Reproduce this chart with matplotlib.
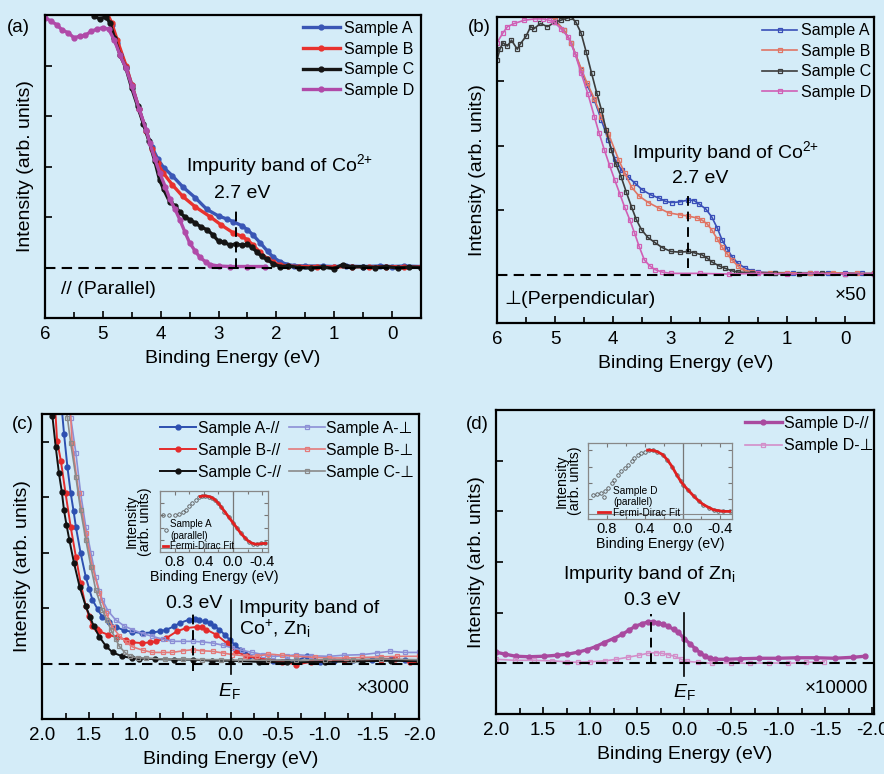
import matplotlib
matplotlib.use("Agg")
import matplotlib.pyplot as plt
from matplotlib.ticker import MultipleLocator, FormatStrFormatter

plt.rcParams['font.family'] = ['Liberation Sans', 'DejaVu Sans']
plt.rcParams['mathtext.fontset'] = 'custom'
plt.rcParams['mathtext.rm'] = 'Liberation Sans'
plt.rcParams['mathtext.it'] = 'Liberation Sans:italic'

bg = "#d4ecf8"

# ---------- (a) parallel, binding energy (eV) / intensity ----------
a_A_E = [4.95, 4.85, 4.75, 4.6, 4.5, 4.37, 4.25, 4.15, 4.05, 3.95, 3.8, 3.62, 3.4, 3.2, 3.0, 2.85, 2.75, 2.6,
         2.5, 2.4, 2.28, 2.15, 2.05, 1.93, 1.81, 1.7, 1.5, 1.2, 1.0, 0.8, 0.5, 0.2, 0.0, -0.2, -0.5]
a_A_I = [5.1, 4.8, 4.45, 3.98, 3.62, 3.13, 2.7, 2.38, 2.15, 1.98, 1.82, 1.6, 1.38, 1.15, 1.02, 0.96, 0.91, 0.83,
         0.75, 0.64, 0.49, 0.32, 0.2, 0.11, 0.06, 0.04, 0.03, 0.03, 0.02, 0.03, 0.02, 0.03, 0.02, 0.03, 0.02]
a_B_E = [4.95, 4.85, 4.75, 4.6, 4.5, 4.37, 4.25, 4.15, 4.05, 3.96, 3.8, 3.62, 3.4, 3.15, 2.95, 2.75, 2.6, 2.5,
         2.4, 2.28, 2.15, 2.05, 1.93, 1.8, 1.6, 1.3, 1.0, 0.7, 0.4, 0.1, -0.2, -0.5]
a_B_I = [5.1, 4.85, 4.5, 4.0, 3.62, 3.13, 2.7, 2.35, 2.06, 1.88, 1.64, 1.41, 1.2, 1.01, 0.84, 0.69, 0.62, 0.55,
         0.44, 0.3, 0.17, 0.1, 0.05, 0.03, 0.02, 0.02, 0.01, 0.02, 0.01, 0.02, 0.01, 0.01]
a_C_E = [5.15, 5.05, 4.95, 4.88, 4.8, 4.7, 4.6, 4.5, 4.4, 4.3, 4.2, 4.1, 4.02, 3.95, 3.84, 3.75, 3.67, 3.58,
         3.5, 3.4, 3.3, 3.2, 3.1, 3.0, 2.9, 2.8, 2.7, 2.6, 2.5, 2.42, 2.33, 2.25, 2.16, 2.05, 1.93, 1.8, 1.6,
         1.4, 1.2, 1.0, 0.85, 0.7, 0.5, 0.3, 0.1, -0.1, -0.3, -0.5]
a_C_I = [4.98, 4.92, 4.97, 4.85, 4.55, 4.2, 3.95, 3.55, 3.2, 2.85, 2.5, 2.1, 1.74, 1.55, 1.29, 1.22, 1.09, 1.0,
         0.95, 0.88, 0.8, 0.75, 0.65, 0.52, 0.5, 0.44, 0.47, 0.44, 0.46, 0.4, 0.3, 0.22, 0.16, 0.07, 0.02, 0.03,
         0.0, -0.01, 0.01, -0.02, 0.06, 0.01, 0.02, 0.0, 0.02, -0.01, 0.01, 0.0]
a_D_E = [6.0, 5.9, 5.8, 5.7, 5.6, 5.5, 5.4, 5.3, 5.2, 5.1, 5.0, 4.9, 4.8, 4.7, 4.6, 4.5, 4.37, 4.25, 4.19,
         4.1, 4.02, 3.92, 3.84, 3.75, 3.67, 3.58, 3.5, 3.4, 3.32, 3.22, 3.15, 3.0, 2.8, 2.5, 2.2]
a_D_I = [4.95, 4.88, 4.81, 4.7, 4.65, 4.55, 4.58, 4.6, 4.68, 4.72, 4.75, 4.72, 4.5, 4.2, 3.95, 3.6, 3.13, 2.72,
         2.47, 2.15, 1.88, 1.6, 1.35, 1.15, 0.95, 0.7, 0.49, 0.32, 0.2, 0.11, 0.06, 0.03, 0.02, 0.02, 0.02]

# ---------- (b) perpendicular ----------
b_A_E = [5.1, 5.0, 4.85, 4.72, 4.55, 4.45, 4.32, 4.2, 4.08, 3.97, 3.85, 3.74, 3.62, 3.5, 3.35, 3.21, 3.1, 2.99,
         2.85, 2.7, 2.6, 2.52, 2.4, 2.3, 2.2, 2.12, 2.03, 1.95, 1.85, 1.72, 1.6, 1.5, 1.2, 0.9, 0.6, 0.3, 0.0,
         -0.3, -0.5]
b_A_I = [4.05, 3.95, 3.8, 3.6, 3.18, 2.95, 2.71, 2.4, 2.09, 1.8, 1.62, 1.52, 1.42, 1.32, 1.24, 1.19, 1.14, 1.12,
         1.13, 1.16, 1.15, 1.1, 1.02, 0.9, 0.72, 0.54, 0.4, 0.28, 0.18, 0.1, 0.06, 0.04, 0.03, 0.03, 0.03, 0.02,
         0.03, 0.02, 0.02]
b_B_E = [5.1, 5.0, 4.85, 4.72, 4.55, 4.45, 4.32, 4.2, 4.08, 3.9, 3.8, 3.68, 3.55, 3.39, 3.2, 3.04, 2.85, 2.7,
         2.55, 2.47, 2.38, 2.3, 2.2, 2.12, 2.03, 1.95, 1.85, 1.78, 1.6, 1.3, 1.0, 0.6, 0.2, -0.2, -0.5]
b_B_I = [4.05, 3.95, 3.8, 3.6, 3.2, 2.98, 2.73, 2.45, 2.19, 1.78, 1.58, 1.36, 1.22, 1.12, 1.03, 0.96, 0.93, 0.91,
         0.88, 0.85, 0.79, 0.7, 0.55, 0.43, 0.32, 0.23, 0.14, 0.08, 0.04, 0.03, 0.03, 0.02, 0.03, 0.02, 0.02]
b_C_E = [6.0, 5.95, 5.9, 5.82, 5.75, 5.65, 5.6, 5.5, 5.42, 5.36, 5.25, 5.13, 5.0, 4.9, 4.8, 4.72, 4.64, 4.55,
         4.46, 4.37, 4.28, 4.2, 4.12, 4.03, 3.95, 3.86, 3.77, 3.68, 3.6, 3.51, 3.4, 3.28, 3.15, 3.0, 2.85, 2.7,
         2.6, 2.47, 2.38, 2.3, 2.18, 2.07, 1.95, 1.84, 1.6, 1.2, 0.8, 0.4, 0.0, -0.5]
b_C_I = [3.33, 3.5, 3.6, 3.55, 3.64, 3.5, 3.58, 3.7, 3.85, 3.82, 3.9, 3.85, 3.92, 3.95, 3.98, 4.0, 3.92, 3.75,
         3.45, 3.13, 2.82, 2.56, 2.25, 1.94, 1.72, 1.52, 1.28, 1.05, 0.86, 0.7, 0.58, 0.5, 0.42, 0.36, 0.35, 0.36,
         0.34, 0.31, 0.26, 0.2, 0.14, 0.1, 0.06, 0.04, 0.03, 0.02, 0.01, 0.02, 0.01, 0.01]
b_D_E = [6.0, 5.9, 5.82, 5.7, 5.53, 5.35, 5.2, 5.1, 5.01, 4.9, 4.77, 4.65, 4.55, 4.43, 4.32, 4.24, 4.15, 4.06,
         3.97, 3.88, 3.8, 3.71, 3.63, 3.55, 3.46, 3.37, 3.28, 3.15, 3.0, 2.5, 2.0, 1.5, 1.0, 0.5, 0.0, -0.5]
b_D_I = [3.6, 3.75, 3.85, 3.9, 3.95, 3.97, 3.97, 3.95, 3.92, 3.82, 3.69, 3.42, 3.13, 2.8, 2.45, 2.2, 1.94, 1.7,
         1.47, 1.25, 1.05, 0.85, 0.65, 0.44, 0.23, 0.14, 0.08, 0.04, 0.02, 0.02, 0.01, 0.02, 0.01, 0.02, 0.01, 0.01]

# ---------- (c) near E_F, x3000 ----------
c_Apar_E = [1.79, 1.766, 1.73, 1.695, 1.665, 1.64, 1.59, 1.535, 1.5, 1.465, 1.41, 1.36, 1.29, 1.22, 1.13, 1.04,
            0.94, 0.83, 0.75, 0.68, 0.6, 0.54, 0.44, 0.38, 0.33, 0.27, 0.22, 0.17, 0.12, 0.06, 0.01, -0.05, -0.1,
            -0.15, -0.2, -0.31, -0.45, -0.6, -0.7, -0.81, -0.88, -0.95, -1.1, -1.3, -1.5, -1.7, -1.85, -2.0]
c_Apar_I = [4.6, 4.14, 3.54, 3.07, 2.75, 2.46, 1.99, 1.56, 1.35, 1.15, 0.98, 0.84, 0.74, 0.66, 0.6, 0.57, 0.55,
            0.56, 0.58, 0.61, 0.67, 0.73, 0.79, 0.8, 0.78, 0.76, 0.73, 0.68, 0.61, 0.52, 0.43, 0.33, 0.25, 0.18,
            0.13, 0.07, 0.05, 0.06, 0.05, 0.13, 0.08, 0.03, 0.05, 0.06, 0.07, 0.08, 0.06, 0.05]
c_Bpar_E = [1.86, 1.84, 1.8, 1.75, 1.695, 1.64, 1.59, 1.535, 1.5, 1.465, 1.42, 1.39, 1.3, 1.2, 1.11, 1.04, 0.94,
            0.85, 0.79, 0.68, 0.57, 0.47, 0.36, 0.3, 0.255, 0.15, 0.04, -0.06, -0.17, -0.28, -0.4, -0.55, -0.7,
            -0.85, -1.0, -1.2, -1.4, -1.6, -1.75, -1.9, -2.0]
c_Bpar_I = [4.6, 4.02, 3.66, 3.07, 2.46, 1.92, 1.45, 1.03, 0.85, 0.67, 0.62, 0.58, 0.52, 0.47, 0.43, 0.38, 0.37,
            0.38, 0.4, 0.46, 0.58, 0.64, 0.66, 0.65, 0.61, 0.52, 0.37, 0.22, 0.13, 0.1, 0.07, 0.03, -0.02, 0.03,
            0.05, 0.07, 0.06, 0.07, 0.08, 0.03, 0.02]
c_Cpar_E = [1.93, 1.89, 1.854, 1.82, 1.79, 1.766, 1.74, 1.71, 1.66, 1.6, 1.535, 1.49, 1.45, 1.39, 1.32, 1.25,
            1.15, 1.05, 0.97, 0.8, 0.6, 0.4, 0.2, 0.0, -0.3, -0.6, -1.0, -1.4, -1.7, -2.0]
c_Cpar_I = [4.7, 4.47, 3.9, 3.43, 3.1, 2.76, 2.5, 2.23, 1.81, 1.38, 1.03, 0.84, 0.67, 0.48, 0.31, 0.2, 0.13, 0.1,
            0.09, 0.08, 0.07, 0.07, 0.05, 0.05, 0.03, 0.02, 0.03, 0.04, 0.05, 0.04]
c_Aperp_E = [1.72, 1.695, 1.64, 1.59, 1.535, 1.48, 1.43, 1.39, 1.36, 1.3, 1.22, 1.13, 1.04, 0.93, 0.83, 0.72,
             0.62, 0.5, 0.4, 0.3, 0.19, 0.08, -0.02, -0.12, -0.23, -0.35, -0.45, -0.6, -0.7, -0.85, -1.05, -1.2,
             -1.4, -1.55, -1.69, -1.85, -2.0]
c_Aperp_I = [4.6, 4.43, 3.79, 3.07, 2.46, 1.99, 1.56, 1.3, 1.15, 0.95, 0.79, 0.68, 0.61, 0.54, 0.49, 0.44, 0.4,
             0.4, 0.4, 0.39, 0.37, 0.33, 0.28, 0.24, 0.2, 0.16, 0.13, 0.14, 0.16, 0.14, 0.13, 0.15, 0.16, 0.19,
             0.22, 0.2, 0.2]
c_Bperp_E = [1.7, 1.68, 1.61, 1.535, 1.465, 1.39, 1.32, 1.25, 1.18, 1.1, 1.04, 0.93, 0.83, 0.72, 0.62, 0.5, 0.4,
             0.3, 0.19, 0.08, -0.02, -0.15, -0.28, -0.4, -0.55, -0.7, -0.9, -1.05, -1.23, -1.4, -1.6, -1.77, -2.0]
c_Bperp_I = [4.6, 3.97, 3.07, 2.35, 1.74, 1.27, 0.91, 0.66, 0.5, 0.38, 0.3, 0.24, 0.2, 0.2, 0.2, 0.23, 0.25,
             0.23, 0.22, 0.19, 0.16, 0.14, 0.13, 0.17, 0.15, 0.13, 0.11, 0.1, 0.1, 0.11, 0.12, 0.13, 0.13]
c_Cperp_E = [1.75, 1.73, 1.695, 1.64, 1.59, 1.535, 1.48, 1.43, 1.36, 1.31, 1.27, 1.22, 1.18, 1.12, 1.07, 0.98,
             0.9, 0.7, 0.5, 0.3, 0.1, -0.1, -0.4, -0.7, -1.0, -1.3, -1.6, -2.0]
c_Cperp_I = [4.6, 4.43, 3.97, 3.36, 2.76, 2.23, 1.74, 1.33, 0.97, 0.78, 0.61, 0.45, 0.31, 0.2, 0.13, 0.1, 0.1,
             0.08, 0.08, 0.07, 0.07, 0.06, 0.06, 0.06, 0.07, 0.07, 0.08, 0.07]

# ---------- (d) sample D, x10000 ----------
d_par_E = [2.0, 1.9, 1.79, 1.65, 1.49, 1.35, 1.24, 1.13, 1.03, 0.94, 0.85, 0.75, 0.66, 0.59, 0.52, 0.45, 0.38,
           0.33, 0.28, 0.22, 0.17, 0.11, 0.06, 0.0, -0.06, -0.12, -0.17, -0.22, -0.28, -0.33, -0.45, -0.6, -0.8,
           -1.0, -1.2, -1.4, -1.6, -1.8, -1.92]
d_par_I = [0.22, 0.18, 0.14, 0.13, 0.14, 0.16, 0.18, 0.22, 0.27, 0.33, 0.41, 0.49, 0.57, 0.65, 0.73, 0.78, 0.82,
           0.82, 0.8, 0.77, 0.73, 0.67, 0.61, 0.49, 0.39, 0.29, 0.21, 0.14, 0.1, 0.08, 0.08, 0.09, 0.1, 0.1, 0.11,
           0.11, 0.1, 0.12, 0.14]
d_perp_E = [2.0, 1.8, 1.6, 1.4, 1.25, 1.13, 1.0, 0.84, 0.72, 0.6, 0.48, 0.38, 0.3, 0.24, 0.17, 0.1, 0.03, -0.03,
            -0.15, -0.3, -0.5, -0.7, -0.9, -1.1, -1.3, -1.49]
d_perp_I = [0.08, 0.06, 0.06, 0.05, 0.03, 0.02, 0.03, 0.05, 0.08, 0.12, 0.16, 0.2, 0.21, 0.2, 0.17, 0.14, 0.08,
            0.04, 0.02, 0.0, 0.01, 0.0, 0.01, 0.0, 0.02, 0.03]

# ---------- insets (normalised) ----------
ic_E = [0.96, 0.88, 0.8, 0.74, 0.69, 0.65, 0.6, 0.56, 0.51, 0.47, 0.42, 0.38, 0.33, 0.29, 0.24, 0.2, 0.16, 0.12,
        0.06, 0.0, -0.06, -0.11, -0.17, -0.22, -0.28, -0.33, -0.39, -0.44]
ic_I = [0.61, 0.61, 0.615, 0.63, 0.66, 0.69, 0.75, 0.8, 0.86, 0.9, 0.92, 0.92, 0.91, 0.89, 0.85, 0.8, 0.73, 0.66,
        0.57, 0.48, 0.39, 0.31, 0.23, 0.16, 0.13, 0.13, 0.14, 0.15]
ic_fit_E = [0.45, 0.4, 0.35, 0.3, 0.25, 0.2, 0.15, 0.1, 0.05, 0.0, -0.05, -0.1, -0.15, -0.2, -0.25, -0.3, -0.35,
            -0.4, -0.45]
ic_fit_I = [0.91, 0.92, 0.915, 0.9, 0.86, 0.8, 0.72, 0.64, 0.56, 0.48, 0.4, 0.32, 0.25, 0.19, 0.15, 0.13, 0.13,
            0.14, 0.14]
id_E = [0.95, 0.9, 0.86, 0.82, 0.79, 0.75, 0.72, 0.68, 0.65, 0.61, 0.58, 0.54, 0.51, 0.47, 0.44, 0.4, 0.35, 0.31,
        0.27, 0.21, 0.16, 0.11, 0.06, 0.02, -0.01, -0.06, -0.12, -0.17, -0.22, -0.28, -0.33, -0.38, -0.43, -0.5]
id_I = [0.32, 0.33, 0.34, 0.37, 0.41, 0.47, 0.52, 0.58, 0.63, 0.67, 0.71, 0.76, 0.8, 0.84, 0.87, 0.89, 0.91, 0.905,
        0.89, 0.85, 0.78, 0.69, 0.58, 0.5, 0.45, 0.38, 0.3, 0.24, 0.19, 0.15, 0.12, 0.11, 0.1, 0.1]
id_fit_E = [0.37, 0.31, 0.27, 0.21, 0.16, 0.11, 0.06, 0.02, -0.01, -0.06, -0.12, -0.17, -0.22, -0.28, -0.33,
            -0.38, -0.43, -0.5]
id_fit_I = [0.91, 0.905, 0.89, 0.85, 0.78, 0.69, 0.58, 0.5, 0.45, 0.38, 0.3, 0.24, 0.19, 0.15, 0.12, 0.11, 0.1, 0.1]

inset_ticks = [0.8, 0.4, 0.0, -0.4]
dash = (0, (5, 3))


def style(ax, xlim, ylim, major, minor, yticks, fmt):
    ax.set_facecolor(bg)
    ax.set_xlim(*xlim)
    ax.set_ylim(*ylim)
    ax.xaxis.set_major_locator(MultipleLocator(major))
    ax.xaxis.set_minor_locator(MultipleLocator(minor))
    ax.xaxis.set_major_formatter(FormatStrFormatter(fmt))
    ax.set_yticks(yticks)
    ax.set_yticklabels([])
    ax.tick_params(direction='in', length=5, width=1.2, labelsize=13.5, pad=6)
    ax.tick_params(which='minor', direction='in', length=4, width=1.2)
    for s in ax.spines.values():
        s.set_linewidth(1.6)
    ax.set_xlabel("Binding Energy (eV)", fontsize=14, labelpad=5)
    ax.set_ylabel("Intensity (arb. units)", fontsize=14, labelpad=2)


def style_inset(ax, xlim, yticks):
    ax.set_facecolor(bg)
    ax.set_xlim(*xlim)
    ax.set_ylim(0, 1)
    ax.set_xticks(inset_ticks)
    ax.set_xticklabels(["0.8", "0.4", "0.0", "-0.4"])
    ax.xaxis.set_minor_locator(MultipleLocator(0.2))
    ax.set_yticks(yticks)
    ax.set_yticklabels([])
    ax.tick_params(direction='in', length=3, width=0.8, labelsize=10.5, pad=2, color='#777777',
                   right=True, top=True)
    ax.tick_params(which='minor', direction='in', length=2, width=0.8, color='#777777', top=True)
    for s in ax.spines.values():
        s.set_linewidth(0.9)
        s.set_color('#888888')
    ax.axvline(0, color='#777777', lw=0.9)
    ax.axhline(0.06, color='#888888', lw=0.8)
    ax.set_xlabel("Binding Energy (eV)", fontsize=10.3, labelpad=1)


fig = plt.figure(figsize=(8.84, 7.74), dpi=100, facecolor=bg)
ax_a = fig.add_axes([0.0509, 0.5891, 0.4253, 0.3915])
ax_b = fig.add_axes([0.5622, 0.5827, 0.4265, 0.3953])
ax_c = fig.add_axes([0.0475, 0.0711, 0.4265, 0.3940])
ax_d = fig.add_axes([0.5611, 0.0775, 0.4276, 0.3928])

co2 = "Impurity band of Co$^{2{+}}$"

# (a)
style(ax_a, (6, -0.5), (-1, 5), 1, 0.5, [0, 1, 2, 3, 4], '%d')
fa = dict(marker='o', ms=3.5, lw=2.4)
ax_a.plot(a_A_E, a_A_I, color='#3a56b5', label='Sample A', **fa)
ax_a.plot(a_B_E, a_B_I, color='#e8322e', label='Sample B', **fa)
ax_a.plot(a_C_E, a_C_I, color='#151515', label='Sample C', **fa)
ax_a.plot(a_D_E, a_D_I, color='#b04aa8', label='Sample D', **fa)
ax_a.plot([6, -0.5], [0, 0], color='k', lw=1.5, ls=dash, zorder=3)
ax_a.plot([2.7, 2.7], [0, 1.19], color='k', lw=1.4, ls=dash, zorder=3)
ax_a.text(1.95, 2.02, co2, ha='center', va='center', fontsize=14)
ax_a.text(2.59, 1.47, "2.7 eV", ha='center', va='center', fontsize=14)
ax_a.text(5.72, -0.44, "// (Parallel)", ha='left', va='center', fontsize=14)
ax_a.legend(loc='upper left', bbox_to_anchor=(0.686, 0.98), frameon=False, fontsize=11.5,
            borderpad=0, borderaxespad=0, handlelength=2.3, handletextpad=0.25, labelspacing=0.35)

# (b)
style(ax_b, (6, -0.5), (-0.75, 4), 1, 0.5, [0, 1, 2, 3], '%d')
sq = dict(marker='s', ms=3.5, mfc='none', mew=0.9, lw=1.2)
ax_b.plot(b_A_E, b_A_I, color='#3a4fb8', label='Sample A', **sq)
ax_b.plot(b_B_E, b_B_I, color='#e07565', label='Sample B', **sq)
ax_b.plot(b_C_E, b_C_I, color='#3c3c3c', label='Sample C', **sq)
ax_b.plot(b_D_E, b_D_I, color='#d05fb5', label='Sample D', **sq)
ax_b.plot([6, -0.5], [0, 0], color='k', lw=1.5, ls=dash, zorder=3)
ax_b.plot([2.7, 2.7], [0.1, 1.25], color='k', lw=1.4, ls=dash, zorder=3)
ax_b.text(2.06, 1.91, co2, ha='center', va='center', fontsize=14)
ax_b.text(2.5, 1.5, "2.7 eV", ha='center', va='center', fontsize=14)
ax_b.text(5.88, -0.39, "⊥(Perpendicular)", ha='left', va='center', fontsize=14)
ax_b.text(-0.37, -0.33, "×50", ha='right', va='center', fontsize=13.5)
ax_b.legend(loc='upper left', bbox_to_anchor=(0.703, 0.98), frameon=False, fontsize=11.5,
            borderpad=0, borderaxespad=0, handlelength=2.2, handletextpad=0.25, labelspacing=0.35)

# (c)
style(ax_c, (2, -2), (-1, 4.5), 0.5, 0.25, [0, 1, 2, 3, 4], '%.1f')
fd = dict(marker='o', ms=3.5, lw=1.4)
l1, = ax_c.plot(c_Apar_E, c_Apar_I, color='#2d4fb0', label='Sample A-//', **fd)
l2, = ax_c.plot(c_Bpar_E, c_Bpar_I, color='#e42b2b', label='Sample B-//', **fd)
l3, = ax_c.plot(c_Cpar_E, c_Cpar_I, color='#111111', label='Sample C-//', **fd)
l4, = ax_c.plot(c_Aperp_E, c_Aperp_I, color='#8c8fd6', label='Sample A-⊥', **sq)
l5, = ax_c.plot(c_Bperp_E, c_Bperp_I, color='#e47a7a', label='Sample B-⊥', **sq)
l6, = ax_c.plot(c_Cperp_E, c_Cperp_I, color='#8a8a8a', label='Sample C-⊥', **sq)
ax_c.plot([2, -2], [0, 0], color='k', lw=1.5, ls=dash, zorder=3)
ax_c.plot([0.4, 0.4], [-0.14, 0.97], color='k', lw=1.4, ls=dash, zorder=3)
ax_c.plot([0, 0], [-0.18, 1.15], color='k', lw=1.2, zorder=3)
ax_c.text(0.39, 1.08, "0.3 eV", ha='center', va='center', fontsize=14)
ax_c.text(-0.085, 0.99, "Impurity band of", ha='left', va='center', fontsize=14)
ax_c.text(-0.085, 0.63, "Co$^{+}$, Zn$_\\mathrm{i}$", ha='left', va='center', fontsize=14)
ax_c.text(0.01, -0.5, "$E_\\mathrm{F}$", ha='center', va='center', fontsize=14)
ax_c.text(-1.9, -0.45, "×3000", ha='right', va='center', fontsize=13.5)
ax_c.legend(handles=[l1, l2, l3, l4, l5, l6], ncol=2, loc='upper left', bbox_to_anchor=(0.313, 0.978),
            frameon=False, fontsize=11.3, borderpad=0, borderaxespad=0, handlelength=2.3,
            handletextpad=0.1, labelspacing=0.45, columnspacing=0.5)

# (d)
style(ax_d, (2, -2.02), (-1, 5), 0.5, 0.25, [0, 1, 2, 3, 4], '%.1f')
ax_d.plot(d_par_E, d_par_I, color='#a94a9f', marker='o', ms=3.5, lw=2.4, label='Sample D-//')
ax_d.plot(d_perp_E, d_perp_I, color='#d38ec9', label='Sample D-⊥', **sq)
ax_d.plot([2, -2.02], [0, 0], color='k', lw=1.5, ls=dash, zorder=3)
ax_d.plot([0.35, 0.35], [0, 0.98], color='k', lw=1.4, ls=dash, zorder=3)
ax_d.plot([0, 0], [-0.24, 1.0], color='k', lw=1.2, zorder=3)
ax_d.text(0.37, 1.76, "Impurity band of Zn$_\\mathrm{i}$", ha='center', va='center', fontsize=14)
ax_d.text(0.34, 1.25, "0.3 eV", ha='center', va='center', fontsize=14)
ax_d.text(0.0, -0.57, "$E_\\mathrm{F}$", ha='center', va='center', fontsize=14)
ax_d.text(-1.96, -0.49, "×10000", ha='right', va='center', fontsize=13.5)
ax_d.legend(loc='upper left', bbox_to_anchor=(0.659, 0.98), frameon=False, fontsize=11.5,
            borderpad=0, borderaxespad=0, handlelength=2.3, handletextpad=0.15, labelspacing=0.45)

# panel letters
fig.text(0.0204, 0.964, "(a)", ha='center', va='center', fontsize=13.5)
fig.text(0.542, 0.964, "(b)", ha='center', va='center', fontsize=13.5)
fig.text(0.026, 0.451, "(c)", ha='center', va='center', fontsize=13.5)
fig.text(0.540, 0.451, "(d)", ha='center', va='center', fontsize=13.5)

# insets
in_c = fig.add_axes([0.181, 0.2868, 0.1222, 0.0788])
style_inset(in_c, (1.0, -0.48), [0.2, 0.4, 0.6, 0.8])
h1, = in_c.plot(ic_E, ic_I, 'o', color='#555555', mfc='none', ms=2.5, mew=0.6, label='Sample A\n(parallel)')
h2, = in_c.plot(ic_fit_E, ic_fit_I, color='#e02020', lw=2.0, label='Fermi-Dirac Fit')
in_c.set_ylabel("Intensity\n(arb. units)", fontsize=10.3, labelpad=4, linespacing=0.95)
in_c.legend(handles=[h1, h2], loc='lower left', bbox_to_anchor=(0.02, 0.0), frameon=False, fontsize=7,
            borderpad=0.1, borderaxespad=0, handlelength=0.5, handletextpad=0.2, labelspacing=0.05)

in_d = fig.add_axes([0.6652, 0.3295, 0.1625, 0.0978])
style_inset(in_d, (1.0, -0.52), [0.26, 0.48, 0.69, 0.91])
h3, = in_d.plot(id_E, id_I, 'o', color='#555555', mfc='none', ms=2.5, mew=0.6, label='Sample D\n(parallel)')
h4, = in_d.plot(id_fit_E, id_fit_I, color='#e02020', lw=2.0, label='Fermi-Dirac Fit')
in_d.set_ylabel("Intensity\n(arb. units)", fontsize=10.3, labelpad=2, linespacing=0.95)
in_d.legend(handles=[h3, h4], loc='lower left', bbox_to_anchor=(0.06, 0.0), frameon=False, fontsize=7.3,
            borderpad=0.1, borderaxespad=0, handlelength=1.2, handletextpad=0.3, labelspacing=0.05)

fig.savefig("out.png", dpi=100, facecolor=bg)
